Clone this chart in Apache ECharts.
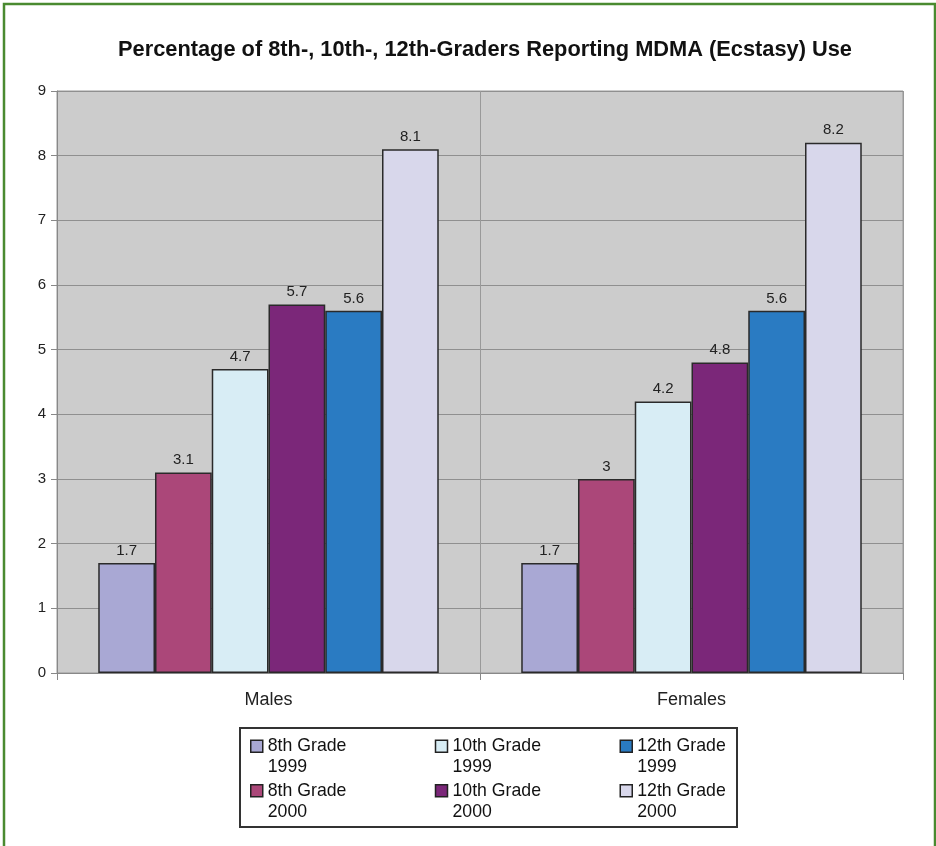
<!DOCTYPE html>
<html>
<head>
<meta charset="utf-8">
<script src="https://cdn.jsdelivr.net/npm/echarts@6/dist/echarts.min.js"></script>
<style>html,body{margin:0;padding:0;background:#fff}#c{width:936px;height:846px}</style>
</head>
<body>
<div id="c"></div>
<script>
const categories = ['Males', 'Females'];
const seriesNames = ['8th Grade\n1999', '8th Grade\n2000', '10th Grade\n1999', '10th Grade\n2000', '12th Grade\n1999', '12th Grade\n2000'];
const grade8y1999 = [1.7, 1.7];
const grade8y2000 = [3.1, 3.0];
const grade10y1999 = [4.7, 4.2];
const grade10y2000 = [5.7, 4.8];
const grade12y1999 = [5.6, 5.6];
const grade12y2000 = [8.1, 8.2];
const seriesValues = [grade8y1999, grade8y2000, grade10y1999, grade10y2000, grade12y1999, grade12y2000];
const colors = ['#a9a8d4', '#ab4779', '#d8edf5', '#7b2779', '#2a7bc2', '#d8d7eb'];
const legendOrder = [seriesNames[0], seriesNames[2], seriesNames[4], seriesNames[1], seriesNames[3], seriesNames[5]];
const yTicks = [0, 9, 1];

const chart = echarts.init(document.getElementById('c'), null, {renderer: 'canvas'});
const font = 'Liberation Sans, Arial, Helvetica, sans-serif';
chart.setOption({
  animation: false,
  backgroundColor: '#ffffff',
  title: {
    text: 'Percentage of 8th-, 10th-, 12th-Graders Reporting MDMA (Ecstasy) Use',
    left: 480, top: 34, textAlign: 'center',
    textStyle: {fontFamily: font, fontSize: 21.8, fontWeight: 'bold', color: '#111'}
  },
  grid: {
    left: 57, right: 33, top: 91, bottom: 173,
    show: true, backgroundColor: '#cccccc', borderColor: '#999999', borderWidth: 1
  },
  legend: {
    data: legendOrder,
    left: 250, top: 735, width: 560, orient: 'horizontal',
    padding: 0, itemGap: 1, itemWidth: 12, itemHeight: 42,
    icon: 'path://M0,0 M0,4.5 L12,4.5 L12,16.5 L0,16.5 Z M0,42',
    itemStyle: {borderColor: '#222', borderWidth: 1.5},
    textStyle: {fontFamily: font, fontSize: 17.7, color: '#111', lineHeight: 21, width: 166, overflow: 'none'},
    selectedMode: false
  },
  graphic: [
    {type: 'rect', shape: {x: 240, y: 728, width: 497, height: 99}, style: {fill: 'none', stroke: '#333', lineWidth: 2}, z: 0},
    {type: 'rect', shape: {x: 4, y: 4, width: 931, height: 850}, style: {fill: 'none', stroke: '#4a8a30', lineWidth: 2.5}, z: 10}
  ],
  xAxis: {
    type: 'category', data: categories,
    axisLine: {lineStyle: {color: '#888', width: 1}},
    axisTick: {show: true, length: 7, lineStyle: {color: '#888'}},
    splitLine: {show: true, lineStyle: {color: '#999', width: 1}},
    axisLabel: {fontFamily: font, fontSize: 18, color: '#222', margin: 18}
  },
  yAxis: {
    type: 'value', min: yTicks[0], max: yTicks[1], interval: yTicks[2],
    axisLine: {show: true, lineStyle: {color: '#888', width: 1}},
    axisTick: {show: true, length: 6, lineStyle: {color: '#888'}},
    splitLine: {show: true, lineStyle: {color: '#8f8f8f', width: 1}},
    axisLabel: {fontFamily: font, fontSize: 15, color: '#222', margin: 11}
  },
  series: seriesNames.map((name, i) => ({
    name: name, type: 'bar', data: seriesValues[i],
    barGap: '0%', barCategoryGap: '19.5%',
    itemStyle: {color: colors[i], borderColor: '#2a2a2a', borderWidth: 1.5},
    label: {show: true, position: 'top', distance: 5, fontFamily: font, fontSize: 15, color: '#222'}
  }))
});
</script>
</body>
</html>
